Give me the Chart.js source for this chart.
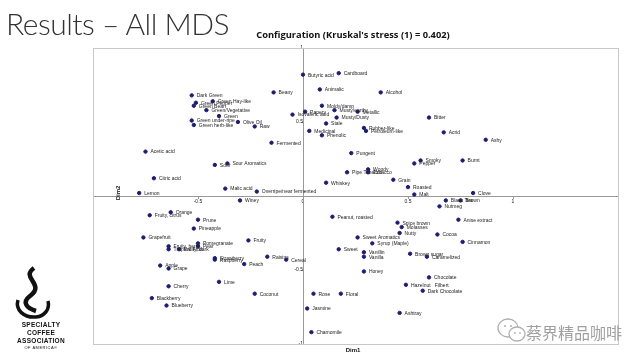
<!DOCTYPE html>
<html>
<head>
<meta charset="utf-8">
<script src="https://cdn.jsdelivr.net/npm/chart.js@4/dist/chart.umd.min.js"></script>
<style>
html,body{margin:0;padding:0;background:#fff;width:640px;height:360px;overflow:hidden;font-family:"Liberation Sans",sans-serif;}
#wrap{position:relative;width:640px;height:360px;}
canvas{position:absolute;left:0;top:0;}
#slideTitle{position:absolute;left:6px;top:5px;font-family:Lato,"Open Sans",sans-serif;font-weight:300;font-size:30px;color:#333;letter-spacing:-0.5px;white-space:nowrap;}
#chartTitle{position:absolute;left:0;width:706px;top:28px;text-align:center;font-family:"Open Sans",sans-serif;font-weight:700;font-size:9.3px;color:#111;white-space:nowrap;}
#logo{position:absolute;left:4px;top:266px;width:74px;text-align:center;font-family:"Liberation Sans",sans-serif;color:#111;}
#logo .big{font-size:6.5px;font-weight:700;line-height:8px;letter-spacing:0.3px;}
#logo .small{font-size:4px;line-height:6px;letter-spacing:0.5px;}
#wm{position:absolute;left:526px;top:320px;font-family:"Noto Sans CJK SC",sans-serif;font-size:16px;color:#a0a0a0;white-space:nowrap;}
#wmIcon{position:absolute;left:496px;top:316px;}
</style>
</head>
<body>
<div id="wrap">
<canvas id="c" width="640" height="360"></canvas>
<div id="slideTitle">Results – All MDS</div>
<div id="chartTitle">Configuration (Kruskal's stress (1) = 0.402)</div>
<div id="logo">
  <svg width="44" height="54" viewBox="0 0 44 54" style="display:block;margin:0 auto 1px 6px">
    <path d="M24 2 C10 12, 36 18, 20 30 C12 36, 16 42, 26 45" fill="none" stroke="#111" stroke-width="4.5"/>
    <path d="M8 34 C5 44, 14 52, 26 51 C35 50, 40 43, 38 35" fill="none" stroke="#111" stroke-width="3.5"/>
  </svg>
  <div class="big">SPECIALTY</div>
  <div class="big">COFFEE ASSOCIATION</div>
  <div class="small">OF AMERICA®</div>
</div>
<svg id="wmIcon" width="30" height="28" viewBox="0 0 30 28">
  <ellipse cx="12" cy="12" rx="10" ry="9" fill="none" stroke="#b0b0b0" stroke-width="1.3"/>
  <ellipse cx="21" cy="18" rx="8" ry="7" fill="#fff" stroke="#b0b0b0" stroke-width="1.3"/>
  <circle cx="9" cy="10" r="1" fill="#b0b0b0"/><circle cx="15" cy="10" r="1" fill="#b0b0b0"/>
  <circle cx="19" cy="17" r="0.9" fill="#b0b0b0"/><circle cx="24" cy="17" r="0.9" fill="#b0b0b0"/>
</svg>
<div id="wm">蔡界精品咖啡</div>
</div>
<script>
const attributes = ["Butyric acid","Cardboard","Beany","Animalic","Alcohol","Dark Green","Green Pepper","Green Bean","Green Hay-like","Green/Vegetative","Green","Green under-ripe","Green herb-like","Olive Oil","Raw","Moldy/damp","Musty/earthy","Metallic","Papery","Isovaleric acid","Musty/Dusty","Stale","Rubber-like","Petroleum-like","Medicinal","Phenolic","Fermented","Bitter","Acrid","Ashy","Acetic acid","Sour","Sour Aromatics","Citric acid","Lemon","Malic acid","Overripe/near fermented","Winey","Fruity, citrus","Orange","Prune","Pungent","Woody","Pipe Tobacco","Tobacco","Grain","Whiskey","Roasted","Malt","Smoky","Pepper","Burnt","Clove","Black Tea","Brown","Nutmeg","Peanut, roasted","Spice brown","Molasses","Nutty","Anise extract","Pineapple","Cocoa","Grapefruit","Fruity","Fruity, berry","Tropical Fruit","Fruity, dark","Pomegranate","Pear","Sweet Aromatics","Syrup (Maple)","Cinnamon","Sweet","Vanillin","Vanilla","Brown sugar","Caramelized","Strawberry","Raspberry","Raisins","Cereal","Peach","Apple","Grape","Honey","Chocolate","Cherry","Lime","Hazelnut   Filbert","Dark Chocolate","Coconut","Blackberry","Rose","Floral","Blueberry","Jasmine","Ashtray","Chamomile"];
const dim1 = [0.00,0.17,-0.14,0.08,0.37,-0.53,-0.51,-0.52,-0.43,-0.46,-0.40,-0.53,-0.52,-0.31,-0.23,0.09,0.15,0.26,0.01,-0.05,0.16,0.11,0.29,0.30,0.03,0.09,-0.15,0.60,0.67,0.87,-0.75,-0.42,-0.36,-0.71,-0.78,-0.37,-0.22,-0.30,-0.73,-0.63,-0.50,0.23,0.31,0.21,0.31,0.43,0.11,0.50,0.53,0.56,0.53,0.76,0.81,0.68,0.75,0.65,0.14,0.45,0.47,0.46,0.74,-0.52,0.64,-0.76,-0.26,-0.64,-0.64,-0.59,-0.50,-0.50,0.26,0.33,0.76,0.17,0.29,0.29,0.51,0.59,-0.42,-0.42,-0.17,-0.08,-0.28,-0.68,-0.64,0.29,0.60,-0.64,-0.40,0.49,0.57,-0.23,-0.72,0.05,0.18,-0.65,0.02,0.46,0.04];
const dim2 = [0.82,0.83,0.70,0.72,0.70,0.68,0.63,0.61,0.64,0.58,0.54,0.51,0.48,0.50,0.47,0.61,0.58,0.57,0.57,0.55,0.53,0.49,0.46,0.44,0.44,0.41,0.36,0.53,0.43,0.38,0.30,0.21,0.22,0.12,0.02,0.05,0.03,-0.03,-0.13,-0.11,-0.16,0.29,0.18,0.16,0.16,0.11,0.09,0.06,0.01,0.24,0.22,0.24,0.02,-0.03,-0.03,-0.07,-0.14,-0.18,-0.21,-0.25,-0.16,-0.22,-0.26,-0.28,-0.30,-0.34,-0.36,-0.36,-0.32,-0.34,-0.28,-0.32,-0.31,-0.36,-0.38,-0.41,-0.39,-0.41,-0.42,-0.43,-0.41,-0.43,-0.46,-0.47,-0.49,-0.51,-0.55,-0.61,-0.58,-0.60,-0.64,-0.66,-0.69,-0.66,-0.66,-0.74,-0.76,-0.79,-0.92];
const xTicks = [-1,-0.5,0,0.5,1,1.5];
const yTicks = [-1,-0.5,0,0.5,1];

const points = attributes.map((n,i)=>({x:dim1[i], y:dim2[i]}));

const pointLabels = {
  id:'pointLabels',
  afterDatasetsDraw(chart){
    const ctx = chart.ctx, meta = chart.getDatasetMeta(0);
    ctx.save();
    ctx.font = '5px "Liberation Sans", sans-serif';
    ctx.fillStyle = '#222';
    ctx.textBaseline = 'middle';
    meta.data.forEach((el,i)=>{ ctx.fillText(attributes[i], el.x+5, el.y+0.5); });
    ctx.restore();
  }
};
const frame = {
  id:'frame',
  beforeDatasetsDraw(chart){
    const a = chart.chartArea, ctx = chart.ctx;
    ctx.save();
    ctx.strokeStyle = '#c8c8c8'; ctx.lineWidth = 1;
    ctx.strokeRect(Math.round(a.left)+0.5, Math.round(a.top)+0.5, Math.round(a.right-a.left), Math.round(a.bottom-a.top));
    ctx.fillStyle = '#111';
    ctx.font = 'bold 6px "Liberation Sans", sans-serif';
    ctx.textAlign = 'center'; ctx.textBaseline = 'middle';
    ctx.fillText('Dim1', 353, 350);
    ctx.translate(118, 193); ctx.rotate(-Math.PI/2);
    ctx.fillText('Dim2', 0, 0);
    ctx.restore();
  }
};

new Chart(document.getElementById('c'), {
  type:'scatter',
  data:{ datasets:[{ data:points, backgroundColor:'#1c1c78', borderColor:'#1c1c78', pointRadius:1.7, pointHoverRadius:1.7 }]},
  options:{
    responsive:false, animation:false, devicePixelRatio:1,
    layout:{ padding:{ left:93, right:22, top:48, bottom:16 } },
    plugins:{ legend:{display:false}, title:{display:false}, tooltip:{enabled:false} },
    scales:{
      x:{ type:'linear', min:-1, max:1.5, position:{y:0},
          afterBuildTicks(s){ s.ticks = xTicks.map(v=>({value:v})); },
          grid:{ display:true, drawOnChartArea:false, tickLength:2, color:'#999' },
          border:{ color:'#999' },
          ticks:{ font:{size:5, family:'"Liberation Sans"'}, color:'#222', padding:1, maxRotation:0,
                  callback:(v)=> (v===-1||v===1.5) ? '' : String(v) } },
      y:{ type:'linear', min:-1, max:1, position:{x:0},
          afterBuildTicks(s){ s.ticks = yTicks.map(v=>({value:v})); },
          grid:{ display:true, drawOnChartArea:false, tickLength:2, color:'#999' },
          border:{ color:'#999' },
          ticks:{ font:{size:5, family:'"Liberation Sans"'}, color:'#222', padding:1,
                  callback:(v)=> v===0 ? '' : String(v) } }
    }
  },
  plugins:[frame, pointLabels]
});
</script>
</body>
</html>
